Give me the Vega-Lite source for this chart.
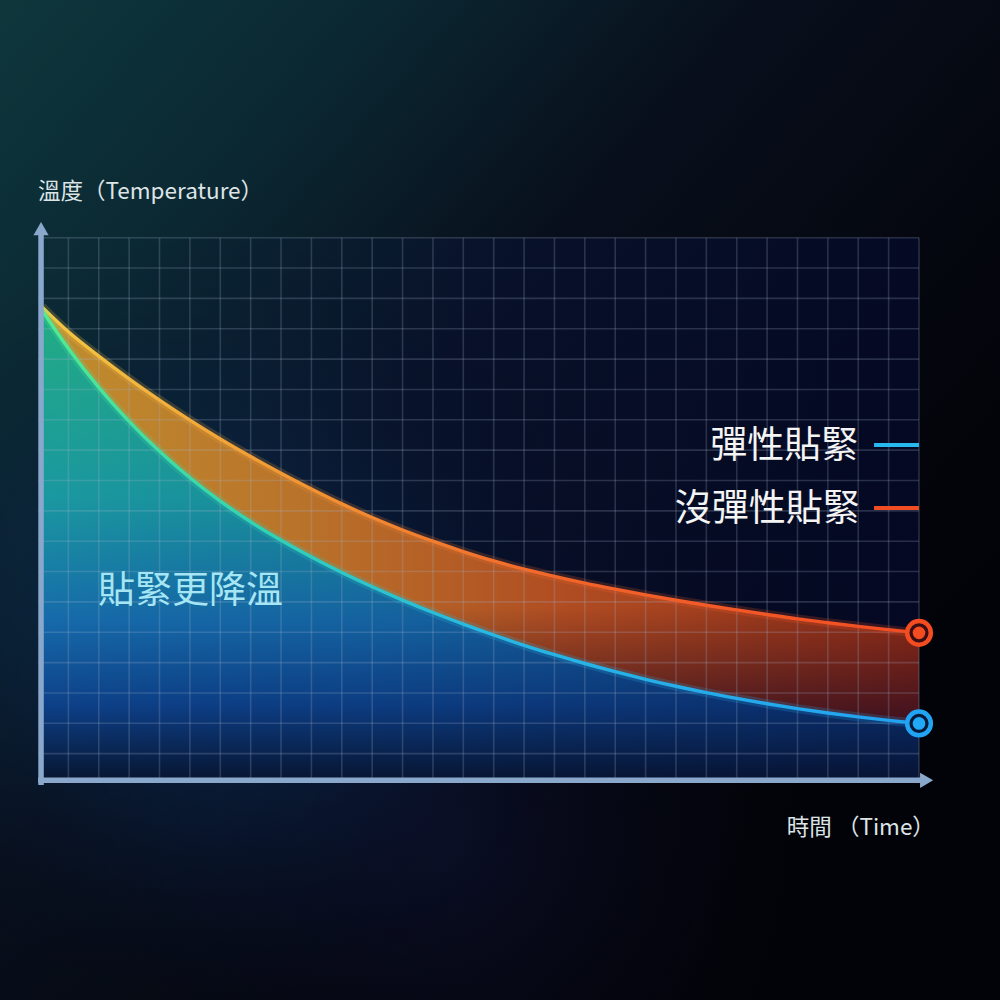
{
  "$schema": "https://vega.github.io/schema/vega-lite/v6.json",
  "width": 1000,
  "height": 1000,
  "autosize": {"type": "fit", "contains": "padding"},
  "padding": 0,
  "background": "#03040a",
  "config": {"view": {"stroke": null}, "axis": {"disable": true}, "legend": {"disable": true}},
  "datasets": {
    "curves": [
      {"time": 0.13, "elastic": 15.62, "nonElastic": 15.72},
      {"time": 1, "elastic": 14.35, "nonElastic": 14.90},
      {"time": 2, "elastic": 13.07, "nonElastic": 14.10},
      {"time": 3, "elastic": 11.95, "nonElastic": 13.35},
      {"time": 4, "elastic": 10.96, "nonElastic": 12.65},
      {"time": 5, "elastic": 10.09, "nonElastic": 11.99},
      {"time": 6, "elastic": 9.32, "nonElastic": 11.37},
      {"time": 7, "elastic": 8.64, "nonElastic": 10.79},
      {"time": 8, "elastic": 8.03, "nonElastic": 10.24},
      {"time": 9, "elastic": 7.48, "nonElastic": 9.72},
      {"time": 10, "elastic": 6.97, "nonElastic": 9.23},
      {"time": 11, "elastic": 6.50, "nonElastic": 8.78},
      {"time": 12, "elastic": 6.06, "nonElastic": 8.37},
      {"time": 13, "elastic": 5.65, "nonElastic": 8.00},
      {"time": 14, "elastic": 5.27, "nonElastic": 7.66},
      {"time": 15, "elastic": 4.91, "nonElastic": 7.35},
      {"time": 16, "elastic": 4.57, "nonElastic": 7.08},
      {"time": 17, "elastic": 4.26, "nonElastic": 6.84},
      {"time": 18, "elastic": 3.97, "nonElastic": 6.62},
      {"time": 19, "elastic": 3.70, "nonElastic": 6.42},
      {"time": 20, "elastic": 3.45, "nonElastic": 6.23},
      {"time": 21, "elastic": 3.22, "nonElastic": 6.055},
      {"time": 22, "elastic": 3.01, "nonElastic": 5.89},
      {"time": 23, "elastic": 2.82, "nonElastic": 5.735},
      {"time": 24, "elastic": 2.645, "nonElastic": 5.585},
      {"time": 25, "elastic": 2.485, "nonElastic": 5.44},
      {"time": 26, "elastic": 2.34, "nonElastic": 5.315},
      {"time": 27, "elastic": 2.21, "nonElastic": 5.195},
      {"time": 28, "elastic": 2.095, "nonElastic": 5.085},
      {"time": 29, "elastic": 1.995, "nonElastic": 4.98}
    ],
    "gridX": [{"t":1},{"t":2},{"t":3},{"t":4},{"t":5},{"t":6},{"t":7},{"t":8},{"t":9},{"t":10},{"t":11},{"t":12},{"t":13},{"t":14},{"t":15},{"t":16},{"t":17},{"t":18},{"t":19},{"t":20},{"t":21},{"t":22},{"t":23},{"t":24},{"t":25},{"t":26},{"t":27},{"t":28},{"t":29}],
    "gridY": [{"v":1},{"v":2},{"v":3},{"v":4},{"v":5},{"v":6},{"v":7},{"v":8},{"v":9},{"v":10},{"v":11},{"v":12},{"v":13},{"v":14},{"v":15},{"v":16},{"v":17},{"v":18}],
    "one": [{}]
  },
  "layer": [
    {
      "data": {"name": "one"},
      "mark": {"type": "rect", "fill": {"gradient": "linear", "x1": 0, "y1": 0, "x2": 0.85, "y2": 0.75,
        "stops": [{"offset": 0, "color": "#0e373c"}, {"offset": 0.25, "color": "#0b2832"}, {"offset": 0.5, "color": "#080f1c"}, {"offset": 0.8, "color": "#04060d"}, {"offset": 1, "color": "#020308"}]}},
      "encoding": {
        "x": {"datum": -1.251, "type": "quantitative", "scale": {"domain": [-1.251, 31.666], "nice": false, "zero": false}},
        "x2": {"datum": 31.666},
        "y": {"datum": -7.117, "type": "quantitative", "scale": {"domain": [-7.117, 25.832], "nice": false, "zero": false}},
        "y2": {"datum": 25.832}
      }
    },
    {
      "data": {"name": "one"},
      "mark": {"type": "rect", "fill": {"gradient": "radial", "x1": 0.45, "y1": 0.85, "r1": 0, "x2": 0.45, "y2": 0.85, "r2": 0.35,
        "stops": [{"offset": 0, "color": "rgba(14,18,50,0.6)"}, {"offset": 1, "color": "rgba(8,10,30,0)"}]}},
      "encoding": {
        "x": {"datum": -1.251, "type": "quantitative", "scale": {"domain": [-1.251, 31.666], "nice": false, "zero": false}},
        "x2": {"datum": 31.666},
        "y": {"datum": -7.117, "type": "quantitative", "scale": {"domain": [-7.117, 25.832], "nice": false, "zero": false}},
        "y2": {"datum": 25.832}
      }
    },
    {
      "data": {"name": "one"},
      "mark": {"type": "rect", "fill": {"gradient": "radial", "x1": 0.22, "y1": 0.63, "r1": 0, "x2": 0.22, "y2": 0.63, "r2": 0.4,
        "stops": [{"offset": 0, "color": "rgba(16,80,140,0.5)"}, {"offset": 0.5, "color": "rgba(12,50,100,0.25)"}, {"offset": 1, "color": "rgba(6,10,30,0)"}]}},
      "encoding": {
        "x": {"datum": -1.251, "type": "quantitative", "scale": {"domain": [-1.251, 31.666], "nice": false, "zero": false}},
        "x2": {"datum": 31.666},
        "y": {"datum": -7.117, "type": "quantitative", "scale": {"domain": [-7.117, 25.832], "nice": false, "zero": false}},
        "y2": {"datum": 25.832}
      }
    },
    {
      "data": {"name": "one"},
      "mark": {"type": "rect", "fill": {"gradient": "linear", "x1": 0, "y1": 0, "x2": 1, "y2": 0,
        "stops": [{"offset": 0, "color": "rgba(10,40,60,0.1)"}, {"offset": 0.5, "color": "rgba(8,20,60,0.4)"}, {"offset": 1, "color": "rgba(5,10,45,0.7)"}]}},
      "encoding": {
        "x": {"datum": 0, "type": "quantitative", "scale": {"domain": [-1.251, 31.666], "nice": false, "zero": false}},
        "x2": {"datum": 29},
        "y": {"datum": 0.12, "type": "quantitative", "scale": {"domain": [-7.117, 25.832], "nice": false, "zero": false}},
        "y2": {"datum": 18}
      }
    },
    {
      "data": {"name": "curves"},
      "mark": {"type": "area", "interpolate": "monotone", "fill": {"gradient": "linear", "x1": 0, "y1": 0, "x2": 0, "y2": 1,
        "stops": [{"offset": 0, "color": "#22ac84"}, {"offset": 0.4, "color": "#1a98a0"}, {"offset": 0.66, "color": "#166aaa"}, {"offset": 0.84, "color": "#0d4088"}, {"offset": 1, "color": "#071530"}]}},
      "encoding": {
        "x": {"field": "time", "type": "quantitative", "scale": {"domain": [-1.251, 31.666], "nice": false, "zero": false}},
        "y": {"field": "elastic", "type": "quantitative", "scale": {"domain": [-7.117, 25.832], "nice": false, "zero": false}},
        "y2": {"datum": 0.12}
      }
    },
    {
      "data": {"name": "curves"},
      "mark": {"type": "area", "interpolate": "monotone", "fill": {"gradient": "linear", "x1": 0, "y1": 0, "x2": 1, "y2": 0,
        "stops": [{"offset": 0, "color": "rgba(6,18,60,0)"}, {"offset": 0.4, "color": "rgba(6,18,60,0.1)"}, {"offset": 1, "color": "rgba(6,14,55,0.4)"}]}},
      "encoding": {
        "x": {"field": "time", "type": "quantitative", "scale": {"domain": [-1.251, 31.666], "nice": false, "zero": false}},
        "y": {"field": "elastic", "type": "quantitative", "scale": {"domain": [-7.117, 25.832], "nice": false, "zero": false}},
        "y2": {"datum": 0.12}
      }
    },
    {
      "data": {"name": "curves"},
      "mark": {"type": "area", "interpolate": "monotone", "fill": {"gradient": "linear", "x1": 0, "y1": 0, "x2": 1, "y2": 0,
        "stops": [{"offset": 0, "color": "#c08e2e"}, {"offset": 0.3, "color": "#b9722a"}, {"offset": 0.6, "color": "#b04c22"}, {"offset": 1, "color": "#902c18"}]}},
      "encoding": {
        "x": {"field": "time", "type": "quantitative", "scale": {"domain": [-1.251, 31.666], "nice": false, "zero": false}},
        "y": {"field": "nonElastic", "type": "quantitative", "scale": {"domain": [-7.117, 25.832], "nice": false, "zero": false}},
        "y2": {"field": "elastic"}
      }
    },
    {
      "data": {"name": "curves"},
      "mark": {"type": "area", "interpolate": "monotone", "fill": {"gradient": "linear", "x1": 0, "y1": 0, "x2": 0, "y2": 1,
        "stops": [{"offset": 0, "color": "rgba(30,6,25,0)"}, {"offset": 0.72, "color": "rgba(30,6,25,0)"}, {"offset": 1, "color": "rgba(30,6,34,0.72)"}]}},
      "encoding": {
        "x": {"field": "time", "type": "quantitative", "scale": {"domain": [-1.251, 31.666], "nice": false, "zero": false}},
        "y": {"field": "nonElastic", "type": "quantitative", "scale": {"domain": [-7.117, 25.832], "nice": false, "zero": false}},
        "y2": {"field": "elastic"}
      }
    },
    {
      "data": {"name": "gridX"},
      "mark": {"type": "rule", "color": "#a8b8d0", "opacity": 0.22, "strokeWidth": 1.6},
      "encoding": {
        "x": {"field": "t", "type": "quantitative", "scale": {"domain": [-1.251, 31.666], "nice": false, "zero": false}},
        "y": {"datum": 0.12, "type": "quantitative", "scale": {"domain": [-7.117, 25.832], "nice": false, "zero": false}},
        "y2": {"datum": 18}
      }
    },
    {
      "data": {"name": "gridY"},
      "mark": {"type": "rule", "color": "#a8b8d0", "opacity": 0.22, "strokeWidth": 1.6},
      "encoding": {
        "y": {"field": "v", "type": "quantitative", "scale": {"domain": [-7.117, 25.832], "nice": false, "zero": false}},
        "x": {"datum": 0, "type": "quantitative", "scale": {"domain": [-1.251, 31.666], "nice": false, "zero": false}},
        "x2": {"datum": 29}
      }
    },
    {
      "data": {"name": "curves"},
      "mark": {"type": "line", "interpolate": "monotone", "strokeWidth": 9, "opacity": 0.2, "stroke": {"gradient": "linear", "x1": 0, "y1": 0, "x2": 1, "y2": 0,
        "stops": [{"offset": 0, "color": "#f2c844"}, {"offset": 0.3, "color": "#f29432"}, {"offset": 0.6, "color": "#f2642a"}, {"offset": 1, "color": "#f24c22"}]}},
      "encoding": {
        "x": {"field": "time", "type": "quantitative", "scale": {"domain": [-1.251, 31.666], "nice": false, "zero": false}},
        "y": {"field": "nonElastic", "type": "quantitative", "scale": {"domain": [-7.117, 25.832], "nice": false, "zero": false}}
      }
    },
    {
      "data": {"name": "curves"},
      "mark": {"type": "line", "interpolate": "monotone", "strokeWidth": 3.4, "stroke": {"gradient": "linear", "x1": 0, "y1": 0, "x2": 1, "y2": 0,
        "stops": [{"offset": 0, "color": "#f2c844"}, {"offset": 0.3, "color": "#f29432"}, {"offset": 0.6, "color": "#f2642a"}, {"offset": 1, "color": "#f24c22"}]}},
      "encoding": {
        "x": {"field": "time", "type": "quantitative", "scale": {"domain": [-1.251, 31.666], "nice": false, "zero": false}},
        "y": {"field": "nonElastic", "type": "quantitative", "scale": {"domain": [-7.117, 25.832], "nice": false, "zero": false}}
      }
    },
    {
      "data": {"name": "curves"},
      "mark": {"type": "line", "interpolate": "monotone", "strokeWidth": 9, "opacity": 0.2, "stroke": {"gradient": "linear", "x1": 0, "y1": 0, "x2": 1, "y2": 0,
        "stops": [{"offset": 0, "color": "#52ea92"}, {"offset": 0.25, "color": "#32d2b4"}, {"offset": 0.5, "color": "#28b8e2"}, {"offset": 1, "color": "#22a2f2"}]}},
      "encoding": {
        "x": {"field": "time", "type": "quantitative", "scale": {"domain": [-1.251, 31.666], "nice": false, "zero": false}},
        "y": {"field": "elastic", "type": "quantitative", "scale": {"domain": [-7.117, 25.832], "nice": false, "zero": false}}
      }
    },
    {
      "data": {"name": "curves"},
      "mark": {"type": "line", "interpolate": "monotone", "strokeWidth": 3.4, "stroke": {"gradient": "linear", "x1": 0, "y1": 0, "x2": 1, "y2": 0,
        "stops": [{"offset": 0, "color": "#52ea92"}, {"offset": 0.25, "color": "#32d2b4"}, {"offset": 0.5, "color": "#28b8e2"}, {"offset": 1, "color": "#22a2f2"}]}},
      "encoding": {
        "x": {"field": "time", "type": "quantitative", "scale": {"domain": [-1.251, 31.666], "nice": false, "zero": false}},
        "y": {"field": "elastic", "type": "quantitative", "scale": {"domain": [-7.117, 25.832], "nice": false, "zero": false}}
      }
    },
    {
      "data": {"name": "one"},
      "mark": {"type": "rule", "color": "#8aa8cc", "strokeWidth": 5.5},
      "encoding": {
        "x": {"datum": 0.1, "type": "quantitative", "scale": {"domain": [-1.251, 31.666], "nice": false, "zero": false}},
        "y": {"datum": -0.03, "type": "quantitative", "scale": {"domain": [-7.117, 25.832], "nice": false, "zero": false}},
        "y2": {"datum": 18.2}
      }
    },
    {
      "data": {"name": "one"},
      "mark": {"type": "rule", "color": "#8aa8cc", "strokeWidth": 5.5},
      "encoding": {
        "y": {"datum": 0.12, "type": "quantitative", "scale": {"domain": [-7.117, 25.832], "nice": false, "zero": false}},
        "x": {"datum": 0.0, "type": "quantitative", "scale": {"domain": [-1.251, 31.666], "nice": false, "zero": false}},
        "x2": {"datum": 29.1}
      }
    },
    {
      "data": {"name": "one"},
      "mark": {"type": "point", "shape": "triangle-up", "filled": true, "opacity": 1, "color": "#8aa8cc", "size": 230},
      "encoding": {
        "x": {"datum": 0.1, "type": "quantitative", "scale": {"domain": [-1.251, 31.666], "nice": false, "zero": false}},
        "y": {"datum": 18.3, "type": "quantitative", "scale": {"domain": [-7.117, 25.832], "nice": false, "zero": false}}
      }
    },
    {
      "data": {"name": "one"},
      "mark": {"type": "point", "shape": "triangle-right", "filled": true, "opacity": 1, "color": "#8aa8cc", "size": 230},
      "encoding": {
        "x": {"datum": 29.25, "type": "quantitative", "scale": {"domain": [-1.251, 31.666], "nice": false, "zero": false}},
        "y": {"datum": 0.12, "type": "quantitative", "scale": {"domain": [-7.117, 25.832], "nice": false, "zero": false}}
      }
    },
    {
      "data": {"name": "curves"},
      "transform": [{"filter": "datum.time == 29"}],
      "layer": [
        {"mark": {"type": "point", "shape": "circle", "filled": true, "opacity": 1, "color": "#3a0e14", "size": 560},
         "encoding": {"y": {"field": "nonElastic", "type": "quantitative", "scale": {"domain": [-7.117, 25.832], "nice": false, "zero": false}}}},
        {"mark": {"type": "point", "shape": "circle", "filled": false, "opacity": 1, "stroke": "#f24c20", "strokeWidth": 4.5, "size": 560},
         "encoding": {"y": {"field": "nonElastic", "type": "quantitative", "scale": {"domain": [-7.117, 25.832], "nice": false, "zero": false}}}},
        {"mark": {"type": "point", "shape": "circle", "filled": true, "opacity": 1, "color": "#f24c20", "size": 160},
         "encoding": {"y": {"field": "nonElastic", "type": "quantitative", "scale": {"domain": [-7.117, 25.832], "nice": false, "zero": false}}}},
        {"mark": {"type": "point", "shape": "circle", "filled": true, "opacity": 1, "color": "#061a3a", "size": 560},
         "encoding": {"y": {"field": "elastic", "type": "quantitative", "scale": {"domain": [-7.117, 25.832], "nice": false, "zero": false}}}},
        {"mark": {"type": "point", "shape": "circle", "filled": false, "opacity": 1, "stroke": "#22a4f4", "strokeWidth": 4.5, "size": 560},
         "encoding": {"y": {"field": "elastic", "type": "quantitative", "scale": {"domain": [-7.117, 25.832], "nice": false, "zero": false}}}},
        {"mark": {"type": "point", "shape": "circle", "filled": true, "opacity": 1, "color": "#22a8f8", "size": 160},
         "encoding": {"y": {"field": "elastic", "type": "quantitative", "scale": {"domain": [-7.117, 25.832], "nice": false, "zero": false}}}}
      ],
      "encoding": {
        "x": {"field": "time", "type": "quantitative", "scale": {"domain": [-1.251, 31.666], "nice": false, "zero": false}}
      }
    },
    {
      "data": {"name": "one"},
      "mark": {"type": "text", "text": "溫度（Temperature）", "font": "Noto Sans CJK TC", "fontSize": 22.5, "color": "#dde4e6", "align": "left", "baseline": "middle"},
      "encoding": {
        "x": {"datum": 0, "type": "quantitative", "scale": {"domain": [-1.251, 31.666], "nice": false, "zero": false}},
        "y": {"datum": 19.5, "type": "quantitative", "scale": {"domain": [-7.117, 25.832], "nice": false, "zero": false}}
      }
    },
    {
      "data": {"name": "one"},
      "mark": {"type": "text", "text": "時間 （Time）", "font": "Noto Sans CJK TC", "fontSize": 22.5, "color": "#dde4e6", "align": "left", "baseline": "middle"},
      "encoding": {
        "x": {"datum": 24.65, "type": "quantitative", "scale": {"domain": [-1.251, 31.666], "nice": false, "zero": false}},
        "y": {"datum": -1.45, "type": "quantitative", "scale": {"domain": [-7.117, 25.832], "nice": false, "zero": false}}
      }
    },
    {
      "data": {"name": "one"},
      "mark": {"type": "text", "text": "貼緊更降溫", "font": "Noto Sans CJK TC", "fontSize": 37, "color": "#a6e6f4", "align": "left", "baseline": "middle"},
      "encoding": {
        "x": {"datum": 1.975, "type": "quantitative", "scale": {"domain": [-1.251, 31.666], "nice": false, "zero": false}},
        "y": {"datum": 6.33, "type": "quantitative", "scale": {"domain": [-7.117, 25.832], "nice": false, "zero": false}}
      }
    },
    {
      "data": {"name": "one"},
      "mark": {"type": "text", "text": "彈性貼緊", "font": "Noto Sans CJK TC", "fontSize": 37, "color": "#f4f4f4", "align": "right", "baseline": "middle"},
      "encoding": {
        "x": {"datum": 27.0, "type": "quantitative", "scale": {"domain": [-1.251, 31.666], "nice": false, "zero": false}},
        "y": {"datum": 11.1, "type": "quantitative", "scale": {"domain": [-7.117, 25.832], "nice": false, "zero": false}}
      }
    },
    {
      "data": {"name": "one"},
      "mark": {"type": "text", "text": "沒彈性貼緊", "font": "Noto Sans CJK TC", "fontSize": 37, "color": "#f4f4f4", "align": "right", "baseline": "middle"},
      "encoding": {
        "x": {"datum": 27.05, "type": "quantitative", "scale": {"domain": [-1.251, 31.666], "nice": false, "zero": false}},
        "y": {"datum": 9.03, "type": "quantitative", "scale": {"domain": [-7.117, 25.832], "nice": false, "zero": false}}
      }
    },
    {
      "data": {"name": "one"},
      "mark": {"type": "rule", "color": "#28b8f0", "strokeWidth": 4},
      "encoding": {
        "x": {"datum": 27.52, "type": "quantitative", "scale": {"domain": [-1.251, 31.666], "nice": false, "zero": false}},
        "x2": {"datum": 29.0},
        "y": {"datum": 11.17, "type": "quantitative", "scale": {"domain": [-7.117, 25.832], "nice": false, "zero": false}}
      }
    },
    {
      "data": {"name": "one"},
      "mark": {"type": "rule", "color": "#f24c22", "strokeWidth": 4},
      "encoding": {
        "x": {"datum": 27.52, "type": "quantitative", "scale": {"domain": [-1.251, 31.666], "nice": false, "zero": false}},
        "x2": {"datum": 29.0},
        "y": {"datum": 9.09, "type": "quantitative", "scale": {"domain": [-7.117, 25.832], "nice": false, "zero": false}}
      }
    }
  ]
}
